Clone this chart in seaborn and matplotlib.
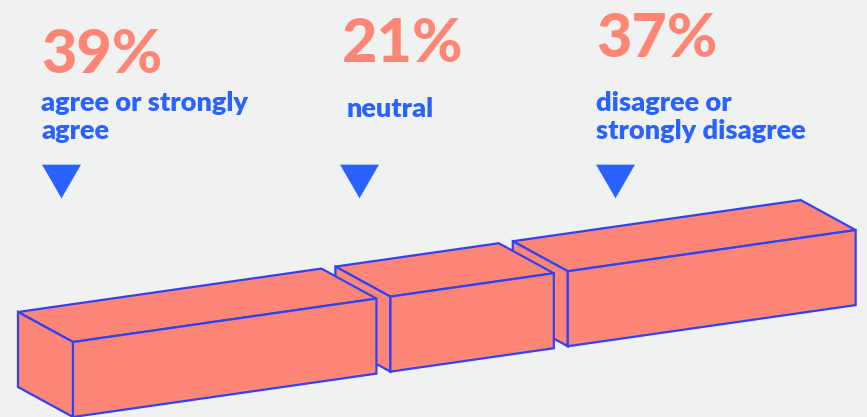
import numpy as np
import pandas as pd
import matplotlib
matplotlib.use("Agg")
import matplotlib.pyplot as plt
from matplotlib.patches import Polygon
import seaborn as sns

# ---- data ----
categories = ["agree or strongly agree", "neutral", "disagree or strongly disagree"]
values = [39, 21, 37]
pct_labels = ["39%", "21%", "37%"]
label_lines = [["agree or strongly", "agree"], ["neutral"], ["disagree or", "strongly disagree"]]

# ---- style ----
BG = "#F0F1F1"
SALMON = "#FD8676"
TEXT_BLUE = "#2962FF"
EDGE_BLUE = "#3341F5"

sns.set_theme(style="white", rc={"axes.facecolor": BG, "figure.facecolor": BG})
plt.rcParams["font.family"] = ["Lato", "DejaVu Sans"]

W, H = 867, 417
fig = plt.figure(figsize=(W / 100, H / 100), dpi=100)
ax = fig.add_axes([0, 0, 1, 1])

# ---- layout (pixel space, y downwards) ----
origin = np.array([73.0, 342.0])   # front-left-top corner of first box
px_per_pct = 7.78
gap = 14.0
slope = -0.143
depth = np.array([-55.0, -30.0])
box_h = 75.0

def along(s):
    return origin + np.array([s, s * slope])

starts = np.concatenate([[0], np.cumsum(values)[:-1]])
boxes = []
for i, (st, v) in enumerate(zip(starts, values)):
    s0 = st * px_per_pct + i * gap
    s1 = s0 + v * px_per_pct
    flt = along(s0)
    frt = along(s1)
    flb = flt + np.array([0, box_h])
    frb = frt + np.array([0, box_h])
    blt = flt + depth
    brt = frt + depth
    blb = flb + depth
    boxes.append((flt, frt, flb, frb, blt, brt, blb))

# draw right-to-left so nearer (left) boxes occlude
for i in reversed(range(len(boxes))):
    flt, frt, flb, frb, blt, brt, blb = boxes[i]
    z = 10 - i
    for pts in ([blt, brt, frt, flt], [blt, flt, flb, blb], [flt, frt, frb, flb]):
        ax.add_patch(Polygon(np.array(pts), closed=True, facecolor=SALMON,
                             edgecolor=EDGE_BLUE, linewidth=1.6, joinstyle="miter",
                             zorder=z))

# ---- labels ----
label_x = [41, 342, 596]
pct_baseline = [73, 62, 57]
line_x = [41, 347, 596]
line_baseline = [[111, 139], [117], [111, 139]]

for i in range(len(values)):
    ax.text(label_x[i], pct_baseline[i], pct_labels[i], color=SALMON,
            fontsize=44, fontweight="black", ha="left", va="baseline")
    for ln, yb in zip(label_lines[i], line_baseline[i]):
        ax.text(line_x[i], yb, ln, color=TEXT_BLUE, fontsize=19.5,
                fontweight="heavy", ha="left", va="baseline")

# ---- pointer triangles ----
tri = pd.DataFrame({"x": [60.5, 358.5, 615.0], "y": [180.5, 180.5, 180.5],
                    "category": categories})
tri_marker = [(-0.5, 0.433), (0.5, 0.433), (0.0, -0.433)]
sns.scatterplot(data=tri, x="x", y="y", marker=tri_marker, s=28 ** 2,
                color=TEXT_BLUE, linewidth=0, legend=False, ax=ax, zorder=20)
ax.set_xlim(0, W)
ax.set_ylim(H, 0)
ax.axis("off")

fig.savefig("out.png", dpi=100, facecolor=BG)
